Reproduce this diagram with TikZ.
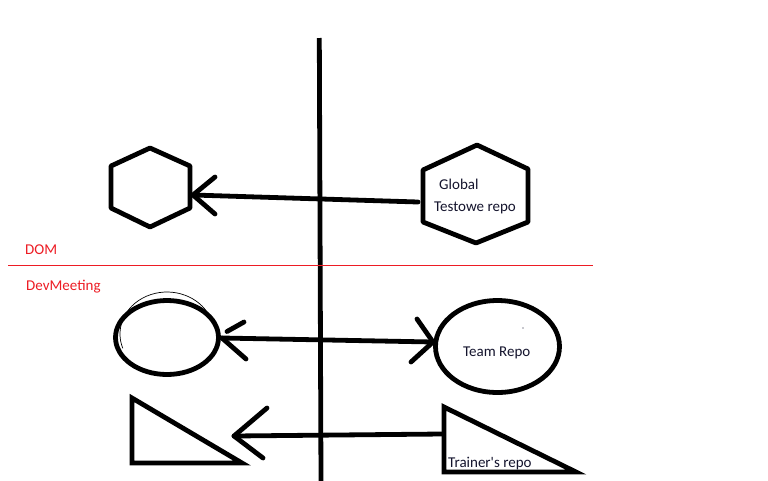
\documentclass[tikz,border=0pt]{standalone}
\usepackage{fontspec}
\setmainfont{Carlito}
\definecolor{paintred}{RGB}{237,28,36}
\definecolor{inkblue}{RGB}{20,20,45}
\begin{document}
\begin{tikzpicture}[x=1pt,y=-1pt,
  thickline/.style={line width=4.8pt,line cap=round,line join=round},
  thinline/.style={line width=0.7pt},
  lbl/.style={anchor=base west,inner sep=0pt,font=\fontsize{15}{17}\selectfont,text=inkblue},
  redlbl/.style={anchor=base west,inner sep=0pt,font=\fontsize{15}{17}\selectfont,text=paintred}]
\useasboundingbox[fill=white] (0,0) rectangle (768,480);

% vertical divider
\coordinate (vtop) at (319.3,38);
\coordinate (vbot) at (321,482);
\draw[thickline,line cap=butt] (vtop) -- (vbot);

% left hexagon
\coordinate (lh1) at (150,148);
\coordinate (lh2) at (190,166);
\coordinate (lh3) at (190,208);
\coordinate (lh4) at (150,227);
\coordinate (lh5) at (111,208);
\coordinate (lh6) at (111,166);
\draw[thickline] (lh1) -- (lh2) -- (lh3) -- (lh4) -- (lh5) -- (lh6) -- cycle;

% right hexagon
\coordinate (rh1) at (477,145);
\coordinate (rh2) at (528,169);
\coordinate (rh3) at (528,222);
\coordinate (rh4) at (476,243);
\coordinate (rh5) at (423,222);
\coordinate (rh6) at (423,170);
\draw[thickline] (rh1) -- (rh2) -- (rh3) -- (rh4) -- (rh5) -- (rh6) -- cycle;
\node[lbl] (global) at (439,189) {Global};
\node[lbl] (testowe) at (434,211) {Testowe repo};

% top arrow
\coordinate (a1s) at (418,202);
\coordinate (a1t) at (193,195);
\coordinate (a1u) at (215,177);
\coordinate (a1d) at (215,214);
\draw[thickline] (a1s) -- (a1t);
\draw[thickline] (a1u) -- (a1t) -- (a1d);

% red separator
\coordinate (sepl) at (8,265.3);
\coordinate (sepr) at (593,265.3);
\draw[paintred,line width=1.2pt] (sepl) -- (sepr);
\node[redlbl] (dom) at (25,254.5) {DOM};
\node[redlbl] (devm) at (26,290) {DevMeeting};

% left ellipse
\coordinate (le) at (167,337.5);
\draw[thickline] (le) ellipse [x radius=51.5, y radius=37];
\coordinate (lethin) at (167,334);
\draw[thinline] (lethin) ++(160:47 and 42) arc[start angle=160,end angle=335,x radius=47,y radius=42];

% right ellipse
\coordinate (re) at (497.5,346.5);
\draw[thickline] (re) ellipse [x radius=62, y radius=46];
\node[lbl] (team) at (463,356) {Team Repo};
\coordinate (dot) at (523,328);
\fill[inkblue] (dot) circle (0.7);

% double arrow
\coordinate (a2l) at (222,338);
\coordinate (a2r) at (433,342);
\coordinate (a2lu1) at (227,331.5);
\coordinate (a2lu2) at (244,322);
\coordinate (a2ld) at (246,359);
\coordinate (a2ru) at (417,319);
\coordinate (a2rd) at (411,362);
\draw[thickline] (a2l) -- (a2r);
\draw[thickline] (a2lu1) -- (a2lu2);
\draw[thickline] (a2l) -- (a2ld);
\draw[thickline] (a2ru) -- (a2r) -- (a2rd);

% left triangle
\coordinate (lt1) at (132,398);
\coordinate (lt2) at (132,463);
\coordinate (lt3) at (242,463);
\draw[thickline,line join=miter] (lt1) -- (lt2) -- (lt3) -- cycle;

% right triangle
\coordinate (rt1) at (444,407);
\coordinate (rt2) at (444,472);
\coordinate (rt3) at (576,472);
\draw[thickline,line join=miter] (rt1) -- (rt2) -- (rt3) -- cycle;
\node[lbl] (trainer) at (448,467) {Trainer\textquotesingle s repo};

% bottom arrow
\coordinate (a3s) at (442,434);
\coordinate (a3t) at (234,436);
\coordinate (a3u) at (267,408);
\coordinate (a3d) at (263,458);
\draw[thickline] (a3s) -- (a3t);
\draw[thickline] (a3u) -- (a3t) -- (a3d);
\end{tikzpicture}
\end{document}
